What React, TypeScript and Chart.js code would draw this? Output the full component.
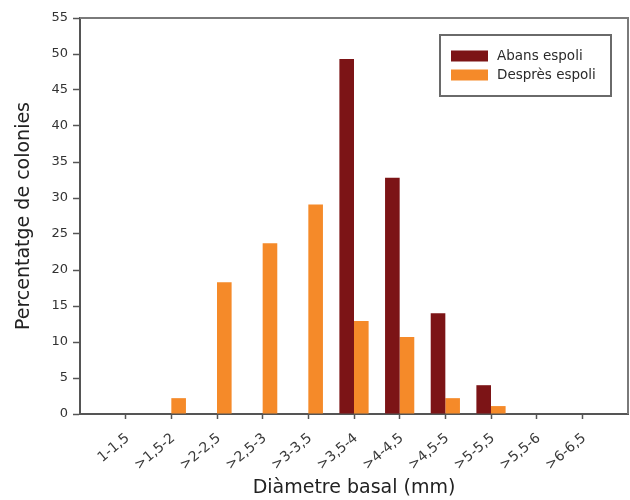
import React, { useEffect, useRef } from "react";
import { Chart, registerables } from "chart.js";

Chart.register(...registerables);

const categories = ["1-1,5", ">1,5-2", ">2-2,5", ">2,5-3", ">3-3,5", ">3,5-4", ">4-4,5", ">4,5-5", ">5-5,5", ">5,5-6", ">6-6,5"];
const abansEspoli = [0, 0, 0, 0, 0, 49.3, 32.8, 14.0, 4.0, 0, 0];
const despresEspoli = [0, 2.2, 18.3, 23.7, 29.1, 12.9, 10.7, 2.2, 1.1, 0, 0];
const seriesNames = ["Abans espoli", "Desprès espoli"];
const seriesColors = ["#7c1416", "#f58a29"];
const yTicksMax = 55;
const yTickStep = 5;
const xTitle = "Diàmetre basal (mm)";
const yTitle = "Percentatge de colonies";

const FONT = "'DejaVu Sans', 'Liberation Sans', Arial, sans-serif";

const framePlugin = {
  id: "frameAndLegend",
  afterDraw(chart: any) {
    const { ctx, chartArea } = chart;
    ctx.save();
    // top and right frame lines
    ctx.strokeStyle = "#7a7a7a";
    ctx.lineWidth = 2;
    ctx.beginPath();
    ctx.moveTo(chartArea.left, chartArea.top);
    ctx.lineTo(chartArea.right, chartArea.top);
    ctx.lineTo(chartArea.right, chartArea.bottom);
    ctx.stroke();

    // legend box inside plot
    const bx = 440, by = 35, bw = 171, bh = 61;
    ctx.fillStyle = "#ffffff";
    ctx.fillRect(bx, by, bw, bh);
    ctx.strokeStyle = "#6a6a6a";
    ctx.lineWidth = 2;
    ctx.strokeRect(bx, by, bw, bh);
    ctx.font = "13.5px " + FONT;
    ctx.textBaseline = "middle";
    ctx.textAlign = "left";
    chart.data.datasets.forEach((ds: any, i: number) => {
      const cy = 56 + i * 19;
      ctx.fillStyle = ds.backgroundColor;
      ctx.fillRect(bx + 11, cy - 5.5, 37, 11);
      ctx.fillStyle = "#2a2a2a";
      ctx.fillText(ds.label, bx + 57, cy);
    });
    ctx.restore();
  },
};

export default function App() {
  const canvasRef = useRef<HTMLCanvasElement | null>(null);

  useEffect(() => {
    if (!canvasRef.current) return;
    const labels = ["", ...categories, ""];
    const pad = (arr: number[]) => [null, ...arr, null];
    const chart = new Chart(canvasRef.current, {
      type: "bar",
      data: {
        labels,
        datasets: [
          { label: seriesNames[0], data: pad(abansEspoli) as any, backgroundColor: seriesColors[0], borderWidth: 0 },
          { label: seriesNames[1], data: pad(despresEspoli) as any, backgroundColor: seriesColors[1], borderWidth: 0 },
        ],
      },
      options: {
        responsive: false,
        animation: false,
        devicePixelRatio: 1,
        layout: { padding: { top: 18, right: 2, left: 0, bottom: 0 } },
        plugins: { legend: { display: false }, tooltip: { enabled: false } },
        datasets: { bar: { categoryPercentage: 0.64, barPercentage: 1.0 } },
        scales: {
          x: {
            type: "category",
            offset: false,
            grid: {
              display: true,
              offset: false,
              drawOnChartArea: false,
              drawTicks: true,
              tickLength: 5,
              tickWidth: 1.5,
              tickColor: (c: any) => (c.index === 0 || c.index === labels.length - 1 ? "rgba(0,0,0,0)" : "#555"),
            },
            border: { display: true, color: "#555", width: 2 },
            ticks: {
              autoSkip: false,
              minRotation: 40,
              maxRotation: 40,
              padding: 11,
              labelOffset: 2,
              color: "#3a3a3a",
              font: { family: FONT, size: 14 },
            },
            title: {
              display: true,
              text: xTitle,
              color: "#222",
              font: { family: FONT, size: 19 },
              padding: { top: 0, bottom: 1 },
            },
            afterFit: (s: any) => {
              s.height = 86;
              s.paddingRight = 0;
              s.paddingLeft = 0;
            },
          },
          y: {
            min: 0,
            max: yTicksMax,
            grid: {
              display: true,
              drawOnChartArea: false,
              drawTicks: true,
              tickLength: 7,
              tickWidth: 1.5,
              tickColor: "#555",
            },
            border: { display: true, color: "#555", width: 2 },
            ticks: {
              stepSize: yTickStep,
              padding: 5,
              color: "#333",
              font: { family: FONT, size: 13 },
            },
            title: {
              display: true,
              text: yTitle,
              color: "#222",
              font: { family: FONT, size: 19 },
              padding: { top: 13, bottom: 0 },
            },
            afterFit: (s: any) => {
              s.width = 80;
            },
          },
        },
      },
      plugins: [framePlugin],
    });
    return () => chart.destroy();
  }, []);

  return (
    <div style={{ position: "absolute", left: 0, top: 0, width: 630, height: 500, background: "#fff" }}>
      <canvas ref={canvasRef} width={630} height={500} style={{ display: "block", width: 630, height: 500 }} />
    </div>
  );
}
